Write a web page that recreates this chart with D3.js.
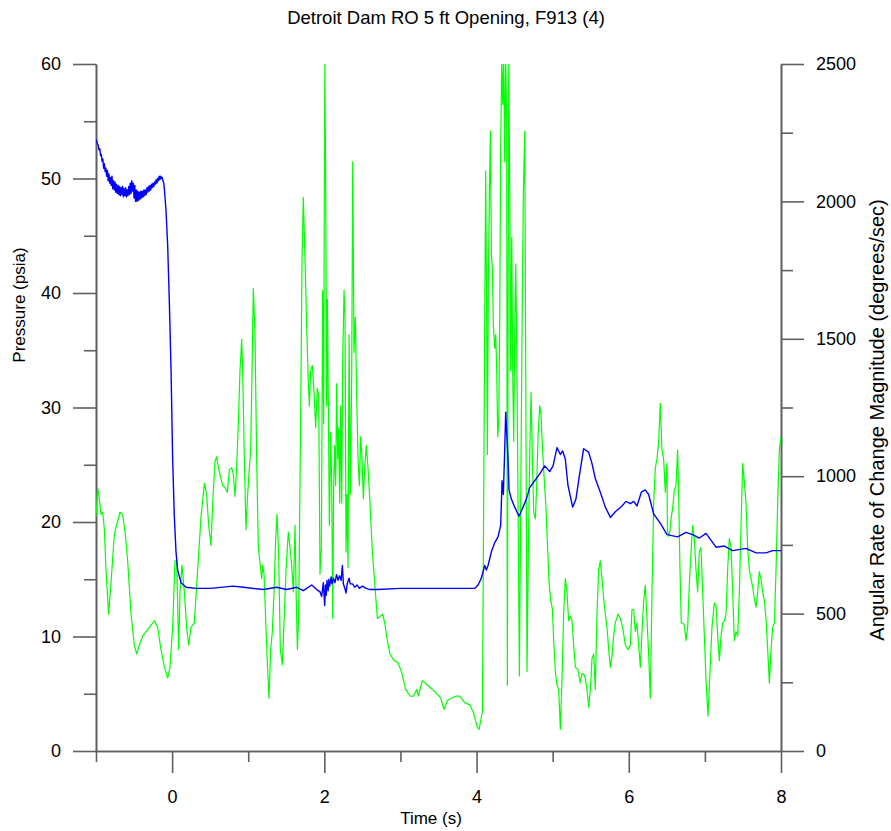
<!DOCTYPE html>
<html><head><meta charset="utf-8">
<script src="https://cdn.jsdelivr.net/npm/d3@7"></script>
<style>
html,body{margin:0;padding:0;background:#fff;}
text{font-family:"Liberation Sans",Arial,sans-serif;fill:#000;}
</style></head>
<body><svg id="c" width="891" height="831"></svg>
<script>
const titleText = "Detroit Dam RO 5 ft Opening, F913 (4)";
const xLabel = "Time (s)";
const yLeftLabel = "Pressure (psia)";
const yRightLabel = "Angular Rate of Change Magnitude (degrees/sec)";

const timeMajorTicks = [0, 2, 4, 6, 8];
const timeMinorTicks = [-1, 1, 3, 5, 7];
const pressureMajorTicks = [0, 10, 20, 30, 40, 50, 60];
const pressureMinorTicks = [5, 15, 25, 35, 45, 55];
const rateMajorTicks = [0, 500, 1000, 1500, 2000, 2500];
const rateMinorTicks = [250, 750, 1250, 1750, 2250];

// Pressure (psia) vs time (s)
const pressureSeries = [
[-1.000,53.4],[-0.985,53.1],[-0.970,52.9],[-0.96,52.5],
[-0.95,52.6],[-0.94,52.0],[-0.93,52.1],[-0.92,51.5],[-0.91,51.7],[-0.90,50.9],[-0.89,51.3],[-0.88,50.6],[-0.87,50.9],[-0.86,50.2],[-0.85,50.7],[-0.84,49.8],[-0.83,50.4],[-0.82,49.6],[-0.81,50.1],[-0.80,49.4],[-0.79,50.2],[-0.78,49.1],[-0.77,49.8],[-0.76,49.0],[-0.75,49.7],[-0.74,48.8],[-0.73,49.5],[-0.72,48.7],[-0.71,49.4],[-0.70,48.6],[-0.69,49.3],[-0.68,48.5],[-0.67,49.2],[-0.66,48.6],[-0.65,49.3],[-0.64,48.4],[-0.63,49.1],[-0.62,48.5],[-0.61,49.2],[-0.60,48.4],[-0.59,49.0],[-0.58,48.5],[-0.57,49.3],[-0.56,48.6],[-0.55,49.6],[-0.54,48.7],[-0.53,49.8],[-0.52,48.9],[-0.51,49.6],[-0.50,48.3],[-0.49,49.4],[-0.48,48.0],[-0.47,49.0],[-0.46,48.0],[-0.45,48.9],[-0.44,48.1],[-0.43,48.8],[-0.42,48.2],[-0.41,48.9],[-0.40,48.3],[-0.39,48.9],[-0.38,48.4],[-0.37,49.0],[-0.36,48.5],[-0.35,49.0],[-0.34,48.6],[-0.33,49.2],[-0.32,48.8],[-0.31,49.3],[-0.30,48.9],[-0.29,49.4],[-0.28,49.0],[-0.27,49.5],[-0.26,49.2],[-0.25,49.6],[-0.24,49.3],[-0.23,49.7],[-0.22,49.5],[-0.21,49.9],[-0.20,49.6],[-0.19,50.0],[-0.18,49.8],[-0.17,50.2],[-0.16,49.9],[-0.15,50.2],[-0.14,50.0],[-0.13,50.1],[-0.12,49.8],[-0.11,49.6],
[-0.102,49.1],[-0.080,47.2],[-0.058,44.1],[-0.036,39.1],[-0.014,33.3],[0.007,25.5],[0.029,20.5],[0.051,17.4],[0.073,15.8],[0.117,14.7],[0.183,14.3],[0.314,14.2],[0.5,14.2],[0.805,14.4],[0.936,14.3],[1.199,14.1],[1.374,14.3],[1.505,14.1],[1.637,14.3],[1.724,14.0],[1.834,14.5],[1.900,14.1],[1.943,13.9],[1.965,13.5],[1.987,14.7],[2.005,12.7],[2.015,14.5],[2.025,13.6],[2.035,14.9],[2.05,14.0],[2.06,15.0],[2.07,14.4],[2.09,15.2],[2.10,14.6],[2.12,15.1],[2.14,14.7],[2.16,15.4],[2.18,14.9],[2.20,15.3],[2.22,14.9],[2.237,16.2],[2.25,14.6],[2.27,14.2],[2.285,13.8],[2.30,14.6],[2.325,15.1],[2.34,14.6],[2.37,14.6],[2.40,14.3],[2.43,14.5],[2.46,14.2],[2.50,14.4],[2.55,14.2],[2.60,14.1],[2.70,14.1],[3.0,14.2],[3.5,14.2],[3.976,14.2],[4.020,14.5],[4.063,15.1],[4.107,16.2],[4.129,15.8],[4.151,16.2],[4.195,17.4],[4.239,18.2],[4.282,18.7],[4.317,19.7],[4.335,23.6],[4.352,22.4],[4.370,26.3],[4.383,29.6],[4.396,27.8],[4.414,25.5],[4.427,22.8],[4.457,22.0],[4.501,21.3],[4.558,20.5],[4.611,21.3],[4.655,22.0],[4.698,23.0],[4.764,23.6],[4.830,24.2],[4.896,24.9],[4.961,24.4],[5.005,24.9],[5.057,26.5],[5.101,25.9],[5.131,26.2],[5.166,25.5],[5.201,23.2],[5.263,21.3],[5.306,22.0],[5.350,24.0],[5.407,26.4],[5.473,26.1],[5.517,25.1],[5.560,23.8],[5.626,22.6],[5.692,21.3],[5.758,20.4],[5.823,20.9],[5.911,21.4],[5.963,21.8],[6.020,21.6],[6.064,21.8],[6.108,21.4],[6.165,22.6],[6.217,22.8],[6.261,22.4],[6.327,20.7],[6.414,19.9],[6.502,18.9],[6.642,18.7],[6.752,19.1],[6.839,18.9],[6.927,18.6],[7.015,19.0],[7.146,17.8],[7.256,17.9],[7.365,17.5],[7.540,17.7],[7.672,17.3],[7.803,17.3],[7.891,17.5],[8.0,17.5]
];

// Angular rate of change magnitude (deg/s) vs time (s)
const rateSeries = [
[-1.000,853],[-0.978,958],[-0.956,918],[-0.934,861],[-0.912,869],[-0.890,805],[-0.869,660],[-0.834,498],[-0.803,611],[-0.759,789],[-0.715,837],[-0.685,869],[-0.650,861],[-0.615,789],[-0.584,692],[-0.540,498],[-0.496,385],[-0.466,353],[-0.431,385],[-0.387,418],[-0.321,442],[-0.277,458],[-0.233,474],[-0.190,450],[-0.146,369],[-0.102,305],[-0.058,265],[-0.028,305],[0.007,450],[0.038,692],[0.060,692],[0.086,369],[0.104,579],[0.130,676],[0.161,579],[0.191,450],[0.218,385],[0.248,450],[0.292,466],[0.336,660],[0.380,853],[0.424,974],[0.454,934],[0.480,821],[0.511,748],
[0.533,902],[0.564,1055],[0.586,1071],[0.608,1031],[0.629,1006],[0.664,966],[0.695,958],[0.726,942],[0.752,1023],[0.783,1031],[0.805,1006],[0.827,926],[0.848,1031],[0.870,1192],[0.892,1385],[0.914,1498],[0.927,1385],[0.949,1063],[0.971,805],[0.989,918],[1.015,1031],[1.032,1095],[1.050,1385],[1.067,1684],[1.089,1515],[1.111,1063],[1.133,740],[1.155,684],[1.177,627],[1.190,676],[1.208,644],[1.229,482],[1.251,321],[1.273,192],[1.295,369],[1.317,434],[1.339,579],[1.361,773],[1.378,861],[1.400,708],[1.422,369],[1.448,313],[1.470,466],[1.497,660],[1.527,797],[1.549,740],[1.571,676],[1.593,579],[1.615,821],[1.628,595],[1.646,369],[1.663,498],[1.689,1224],[1.707,1789],[1.724,2015],[1.746,1789],[1.768,1547],[1.790,1337],[1.803,1256],[1.821,1385],[1.843,1402],[1.865,1305],[1.886,1176],[1.908,1321],[1.926,1289],[1.943,644],[1.961,740],[1.978,1676],[1.991,1192],[2.000,2031],[2.007,2520],
[2.018,2031],[2.031,1256],[2.040,1644],[2.053,1256],[2.066,821],[2.084,1160],[2.097,966],[2.110,482],[2.123,982],[2.136,1111],[2.149,966],[2.162,1337],[2.176,1063],[2.189,1176],[2.202,902],[2.215,1256],[2.228,902],[2.241,1418],[2.259,1676],[2.272,1579],[2.285,724],[2.298,934],[2.311,668],[2.325,1515],[2.342,934],[2.360,1385],[2.373,2144],[2.390,1450],[2.408,1579],[2.425,1289],[2.443,1063],[2.460,966],[2.478,1144],[2.495,1063],[2.513,918],[2.530,1031],[2.552,1111],[2.574,1031],[2.600,902],[2.631,724],[2.662,611],[2.697,482],[2.732,490],[2.767,498],[2.793,466],[2.828,402],[2.863,353],[2.916,329],[2.968,321],[3.012,289],[3.069,224],[3.126,200],[3.170,200],[3.214,224],[3.236,200],[3.288,256],[3.354,240],[3.420,224],[3.507,200],
[3.529,192],[3.573,152],[3.617,184],[3.669,192],[3.735,200],[3.779,200],[3.844,176],[3.910,168],[3.954,144],[3.985,111],[4.011,87],[4.033,79],[4.055,111],[4.077,144],[4.090,740],[4.107,1547],[4.120,2111],[4.134,1547],[4.142,1079],[4.155,1708],[4.169,2031],[4.182,2256],[4.195,1805],[4.208,1756],[4.221,1547],[4.239,1466],[4.252,1515],[4.265,1385],[4.278,1144],[4.291,1192],[4.304,1547],[4.317,2192],[4.331,2520],[4.344,2353],[4.357,2520],[4.370,2144],[4.383,2520],[4.396,2289],[4.405,240],[4.414,1547],[4.423,2520],[4.436,2031],[4.449,1385],[4.462,1869],[4.475,1385],[4.488,1127],[4.501,1515],[4.515,1773],[4.528,1466],[4.545,902],[4.563,273],[4.580,902],[4.598,1547],[4.615,2031],[4.633,2256],[4.646,1385],[4.663,289],[4.681,740],[4.698,1063],[4.716,1305],[4.734,1063],[4.751,869],[4.773,845],[4.790,966],[4.808,1144],[4.830,1256],[4.847,1224],[4.865,1111],[4.887,998],[4.909,902],[4.931,756],[4.953,611],[4.975,547],[4.997,515],
[5.013,402],[5.035,289],[5.057,240],[5.079,224],[5.101,79],[5.122,256],[5.144,498],[5.166,627],[5.188,579],[5.210,474],[5.232,490],[5.254,474],[5.276,385],[5.298,305],[5.333,297],[5.363,248],[5.385,281],[5.407,281],[5.429,265],[5.451,224],[5.473,160],[5.495,224],[5.517,337],[5.539,353],[5.560,224],[5.582,498],[5.604,660],[5.626,692],[5.648,627],[5.670,555],[5.692,498],[5.714,450],[5.736,369],[5.758,305],[5.779,345],[5.801,418],[5.823,466],[5.858,498],[5.889,482],[5.920,450],[5.955,385],[5.990,369],[6.020,385],[6.042,515],[6.064,515],[6.086,434],[6.108,466],[6.130,385],[6.152,305],[6.174,434],[6.196,547],[6.217,603],[6.239,482],[6.261,353],[6.283,192],[6.305,579],[6.327,902],[6.349,1031],[6.371,1063],[6.393,1127],[6.414,1265],[6.436,1095],[6.458,1063],[6.480,942],[6.502,1047],
[6.507,805],[6.524,781],[6.542,805],[6.559,853],[6.577,885],[6.599,950],[6.620,966],[6.642,1095],[6.655,934],[6.673,660],[6.690,466],[6.708,466],[6.730,458],[6.752,402],[6.774,450],[6.796,611],[6.818,724],[6.839,821],[6.861,773],[6.883,660],[6.905,579],[6.927,724],[6.949,740],[6.971,579],[6.993,418],[7.015,256],[7.041,127],[7.067,289],[7.093,450],[7.124,539],[7.146,531],[7.168,418],[7.190,329],[7.212,418],[7.234,466],[7.256,474],[7.277,498],[7.299,660],[7.321,773],[7.343,740],[7.365,579],[7.387,402],[7.409,434],[7.431,418],[7.453,579],[7.475,821],[7.496,1047],[7.518,982],[7.540,902],[7.562,740],[7.584,660],[7.606,627],[7.628,595],[7.650,555],[7.672,523],[7.694,579],[7.715,652],[7.737,627],[7.759,579],[7.781,547],[7.803,482],[7.825,369],[7.847,248],[7.869,369],[7.891,450],[7.913,466],[7.935,660],[7.956,902],[7.978,1095],[8.000,1144]
];

const L = 96, R = 781, T = 64, B = 751;
const svg = d3.select("#c");
const x = d3.scaleLinear().domain([-1, 8]).range([L, R]);
const yP = d3.scaleLinear().domain([0, 60]).range([B, T]);
const yR = d3.scaleLinear().domain([0, 2500]).range([B, T]);

svg.append("defs").append("clipPath").attr("id","clip")
  .append("rect").attr("x",L).attr("y",T).attr("width",R-L).attr("height",B-T);

const axisColor = "#606060";
function style(g){
  g.selectAll("path.domain").attr("stroke",axisColor).attr("stroke-width",1.6);
  g.selectAll(".tick line").attr("stroke",axisColor).attr("stroke-width",1.6);
  g.selectAll(".tick text").style("font-size","18px").attr("fill","#000");
}

// bottom axis
const gB = svg.append("g").attr("transform",`translate(0,${B})`);
gB.call(d3.axisBottom(x).tickValues(timeMajorTicks).tickSize(22).tickSizeOuter(0).tickPadding(17).tickFormat(d3.format("d")));
style(gB);
const gBm = svg.append("g").attr("transform",`translate(0,${B})`);
gBm.call(d3.axisBottom(x).tickValues(timeMinorTicks).tickSize(11).tickSizeOuter(0).tickFormat(""));
style(gBm);

// left axis
const gL = svg.append("g").attr("transform",`translate(${L},0)`);
gL.call(d3.axisLeft(yP).tickValues(pressureMajorTicks).tickSize(23).tickSizeOuter(0).tickPadding(12).tickFormat(d3.format("d")));
style(gL);
const gLm = svg.append("g").attr("transform",`translate(${L},0)`);
gLm.call(d3.axisLeft(yP).tickValues(pressureMinorTicks).tickSize(12).tickSizeOuter(0).tickFormat(""));
style(gLm);

// right axis
const gR = svg.append("g").attr("transform",`translate(${R},0)`);
gR.call(d3.axisRight(yR).tickValues(rateMajorTicks).tickSize(23).tickSizeOuter(0).tickPadding(12).tickFormat(d3.format("d")));
style(gR);
const gRm = svg.append("g").attr("transform",`translate(${R},0)`);
gRm.call(d3.axisRight(yR).tickValues(rateMinorTicks).tickSize(12).tickSizeOuter(0).tickFormat(""));
style(gRm);

const plot = svg.append("g").attr("clip-path","url(#clip)");
plot.append("path").datum(rateSeries)
  .attr("fill","none").attr("stroke","#00ff00").attr("stroke-width",1.2).attr("stroke-linejoin","round")
  .attr("d", d3.line().x(d=>x(d[0])).y(d=>yR(d[1])));
plot.append("path").datum(pressureSeries)
  .attr("fill","none").attr("stroke","#0000ff").attr("stroke-width",1.4).attr("stroke-linejoin","round")
  .attr("d", d3.line().x(d=>x(d[0])).y(d=>yP(d[1])));

svg.append("text").attr("x",446).attr("y",24).attr("text-anchor","middle").style("font-size","18.5px").text(titleText);
svg.append("text").attr("x",431).attr("y",824).attr("text-anchor","middle").style("font-size","17px").text(xLabel);
svg.append("text").attr("transform","translate(25,305) rotate(-90)").attr("text-anchor","middle").style("font-size","17px").text(yLeftLabel);
svg.append("text").attr("transform","translate(884,420) rotate(-90)").attr("text-anchor","middle").style("font-size","20px").text(yRightLabel);
</script></body></html>
